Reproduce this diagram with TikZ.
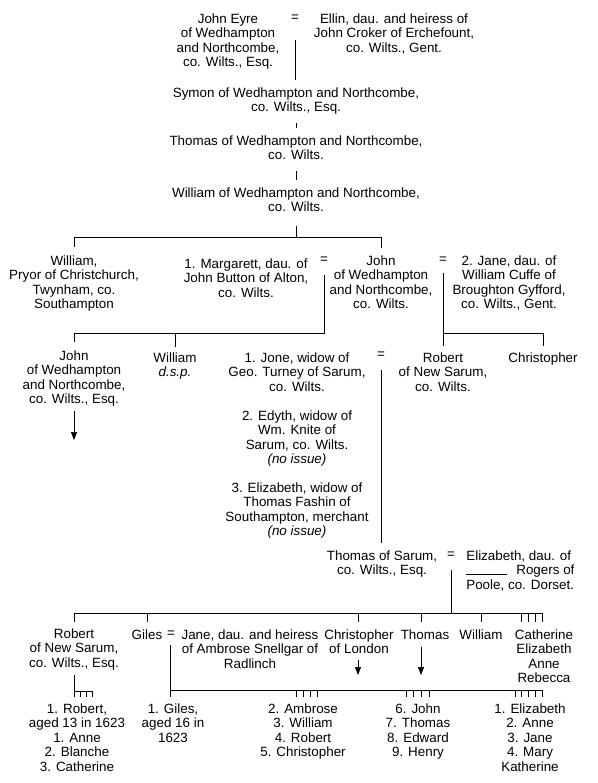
\documentclass[tikz,border=0pt]{standalone}
\usepackage{fontspec}
\setmainfont{Liberation Sans}
\usetikzlibrary{arrows.meta}

\begin{document}
\begin{tikzpicture}[x=1pt,y=-1pt,line width=0.7pt,
                    every node/.style={align=center,inner sep=0pt,anchor=north,
                                       font=\fontsize{13.4}{14.5}\selectfont},
                    wed/.style={anchor=center},
                    drop/.style={-{Triangle[length=8pt,width=6pt]}}]
  \useasboundingbox (0,0) rectangle (597,783);

  % generations, top to bottom
  \node (eyre) at (228,13) {John Eyre\\of Wedhampton\\and Northcombe,\\co. Wilts., Esq.};
  \node[wed] (eq1) at (295,18) {=};
  \node (ellin) at (394,13) {Ellin, dau. and heiress of\\John Croker of Erchefount,\\co. Wilts., Gent.};
  \node (symon) at (296,87) {Symon of Wedhampton and Northcombe,\\co. Wilts., Esq.};
  \node (thomas1) at (296,135) {Thomas of Wedhampton and Northcombe,\\co. Wilts.};
  \node (william1) at (296,187) {William of Wedhampton and Northcombe,\\co. Wilts.};

  \node (pryor) at (74,255) {William,\\Pryor of Christchurch,\\Twynham, co.\\Southampton};
  \node (margarett) at (246,258) {1. Margarett, dau. of\\John Button of Alton,\\co. Wilts.};
  \node[wed] (eq2) at (324,260) {=};
  \node (john2) at (381,255) {John\\of Wedhampton\\and Northcombe,\\co. Wilts.};
  \node[wed] (eq3) at (443,260) {=};
  \node (jane2) at (509,255) {2. Jane, dau. of\\William Cuffe of\\Broughton Gyfford,\\co. Wilts., Gent.};

  \node (john3) at (74,350) {John\\of Wedhampton\\and Northcombe,\\co. Wilts., Esq.};
  \node (williamdsp) at (175,352) {William\\\textit{d.s.p.}};
  \node (jone) at (297,352) {1. Jone, widow of\\Geo. Turney of Sarum,\\co. Wilts.};
  \node[wed] (eq4) at (381,355) {=};
  \node (robert3) at (443,352) {Robert\\of New Sarum,\\co. Wilts.};
  \node (chris3) at (543,352) {Christopher};
  \node (edyth) at (297,410) {2. Edyth, widow of\\Wm. Knite of\\Sarum, co. Wilts.\\\textit{(no issue)}};
  \node (fashin) at (297,482) {3. Elizabeth, widow of\\Thomas Fashin of\\Southampton, merchant\\\textit{(no issue)}};

  \node (thomas4) at (382,550) {Thomas of Sarum,\\co. Wilts., Esq.};
  \node[wed] (eq5) at (451,555) {=};
  \node[anchor=north west,align=left] (rogers) at (466,550)
    {Elizabeth, dau. of\\\rule{41pt}{0.6pt}\hspace{9pt}Rogers of\\Poole, co. Dorset.};

  \node (robert5) at (74,628) {Robert\\of New Sarum,\\co. Wilts., Esq.};
  \node (giles) at (147,629) {Giles};
  \node[wed] (eq6) at (171,634) {=};
  \node (jane5) at (250,629) {Jane, dau. and heiress\\of Ambrose Snellgar of\\Radlinch};
  \node (chris5) at (359,629) {Christopher\\of London};
  \node (thomas5) at (425,629) {Thomas};
  \node (william5) at (481,629) {William};
  \node (cath5) at (544,629) {Catherine\\Elizabeth\\Anne\\Rebecca};

  \node (issR) at (77,703) {1. Robert,\\aged 13 in 1623\\1. Anne\\2. Blanche\\3. Catherine};
  \node (issG1) at (173,703) {1. Giles,\\aged 16 in\\1623};
  \node (issG2) at (303,703) {2. Ambrose\\3. William\\4. Robert\\5. Christopher};
  \node (issG3) at (418,703) {6. John\\7. Thomas\\8. Edward\\9. Henry};
  \node (issG4) at (530,703) {1. Elizabeth\\2. Anne\\3. Jane\\4. Mary\\Katherine};

  % junctions
  \coordinate (m1) at (295,40);
  \coordinate (bar1) at (296,237);
  \coordinate (m2) at (324,275);
  \coordinate (bar2) at (324,333);
  \coordinate (m3) at (443,273);
  \coordinate (bar3) at (443,333);
  \coordinate (j3) at (74,440);
  \coordinate (m4) at (381,370);
  \coordinate (m5) at (451,570);
  \coordinate (bar5) at (451,613);
  \coordinate (cathtick) at (521,613);
  \coordinate (m6) at (170,645);
  \coordinate (bar6) at (170,690);
  \coordinate (tkA) at (296,690);
  \coordinate (tkB) at (406,690);
  \coordinate (tkC) at (515,690);
  \coordinate (c5end) at (358,675);
  \coordinate (t5end) at (421,675);
  \coordinate (r5) at (74,691);

  % lines of descent
  \draw[shorten >=7pt] (m1) -- (m1 |- symon.north);
  \draw[shorten <=8pt,shorten >=7pt] (symon.south) -- (thomas1.north);
  \draw[shorten <=11pt,shorten >=7pt] (thomas1.south) -- (william1.north);
  \draw[shorten <=14pt] (william1.south) -- (bar1);
  \draw (bar1 -| pryor) -- (bar1 -| john2);
  \draw[shorten >=8pt] (bar1 -| pryor) -- (pryor.north);
  \draw[shorten >=7pt] (bar1 -| john2) -- (john2.north);

  \draw (m2) -- (bar2) -- (bar2 -| john3);
  \draw[shorten >=8pt] (bar2 -| john3) -- (john3.north);
  \draw[shorten >=5pt] (bar2 -| williamdsp) -- (williamdsp.north);

  \draw[shorten >=6pt] (m3) -- (m3 |- robert3.north);
  \draw (bar3) -- (bar3 -| chris3);
  \draw[shorten >=6pt] (bar3 -| chris3) -- (chris3.north);

  \draw[drop,shorten <=4pt] (john3.south) -- (j3);
  \draw[shorten >=7pt] (m4) -- (m4 |- thomas4.north);

  \draw (m5) -- (bar5);
  \draw (bar5 -| robert5) -- ([xshift=21pt]cathtick);
  \draw[shorten >=6pt] (bar5 -| robert5) -- (robert5.north);
  \draw[shorten >=7pt] (bar5 -| giles) -- (giles.north);
  \draw[shorten >=7pt] (bar5 -| c5end) -- (c5end |- chris5.north);
  \draw[shorten >=7pt] (bar5 -| t5end) -- (t5end |- thomas5.north);
  \draw[shorten >=7pt] (bar5 -| william5) -- (william5.north);
  \foreach \i in {0,...,3}
    \draw ([xshift=\i*7pt]cathtick) -- ++(0,9);

  \draw[shorten >=6pt] (m6) -- (m6 |- issG1.north);
  \draw (bar6) -- ([xshift=27pt]tkC);
  \foreach \c/\n/\s in {tkA/3/7,tkB/3/7.7,tkC/4/6.75}
    \foreach \i in {0,...,\n}
      \draw ([xshift=\i*\s pt]\c) -- ++(0,7);

  \draw[drop,shorten <=6pt] (c5end |- chris5.south) -- (c5end);
  \draw[drop,shorten <=7pt] (t5end |- thomas5.south) -- (t5end);

  \draw[shorten <=5pt] (robert5.south) -- (r5);
  \draw (r5) -- ([xshift=18pt]r5);
  \foreach \i in {0,...,3}
    \draw ([xshift=\i*6pt]r5) -- ++(0,6);
\end{tikzpicture}
\end{document}
